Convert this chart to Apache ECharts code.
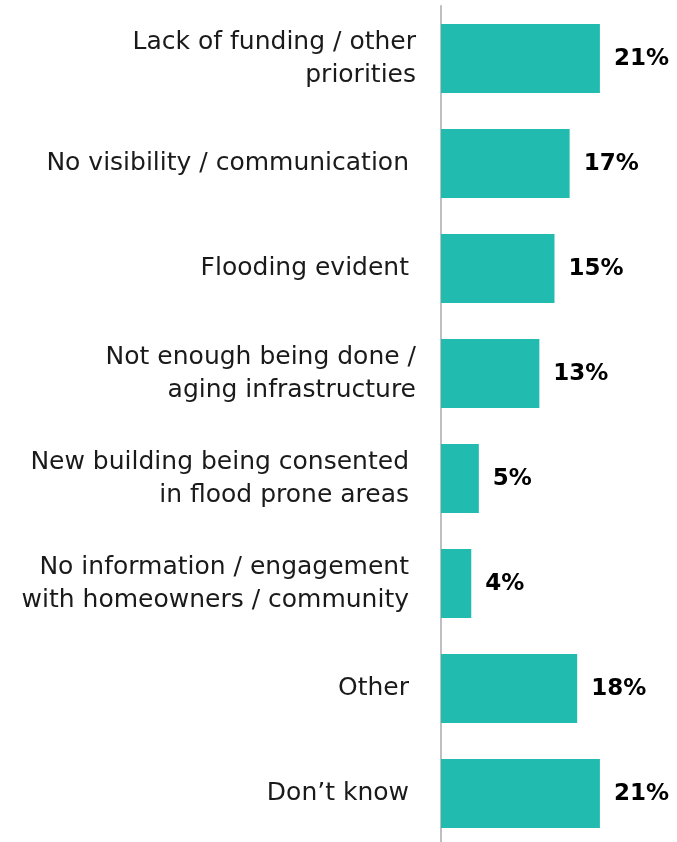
<!DOCTYPE html>
<html>
<head>
<meta charset="utf-8">
<script src="https://cdn.jsdelivr.net/npm/echarts@6/dist/echarts.min.js"></script>
<style>
  html, body { margin: 0; padding: 0; background: #fff; }
  #chart { width: 677px; height: 842px; }
</style>
</head>
<body>
<div id="chart"></div>
<script>
// Reasons given, top to bottom
const categories = [
  'Lack of funding / other\npriorities',
  'No visibility / communication',
  'Flooding evident',
  'Not enough being done /\naging infrastructure',
  'New building being consented\nin flood prone areas',
  'No information / engagement\nwith homeowners / community',
  'Other',
  'Don\u2019t know'
];
// Share of respondents (%)
const values = [21, 17, 15, 13, 5, 4, 18, 21];
// Labels that sit slightly further from the axis
const insetLabels = [false, true, true, false, true, true, true, true];

const chart = echarts.init(document.getElementById('chart'), null, { renderer: 'canvas' });

const labelFont = '"DejaVu Sans", sans-serif';

chart.setOption({
  animation: false,
  grid: { left: 441, top: 6, width: 227, height: 840, containLabel: false, outerBoundsMode: 'none' },
  xAxis: {
    type: 'value', min: 0, max: 30,
    show: false
  },
  yAxis: {
    type: 'category',
    inverse: true,
    data: categories,
    axisLine: { show: true, lineStyle: { color: '#bfbfbf', width: 2 } },
    axisTick: { show: false },
    axisLabel: {
      margin: 25,
      align: 'right',
      formatter: function (value, idx) {
        const style = insetLabels[idx] ? 'b' : 'a';
        return value.split('\n').map(l => '{' + style + '|' + l + '}').join('\n');
      },
      rich: {
        a: { fontFamily: labelFont, fontSize: 25, color: '#1a1a1a', lineHeight: 33, align: 'right' },
        b: { fontFamily: labelFont, fontSize: 25, color: '#1a1a1a', lineHeight: 33, align: 'right', padding: [0, 7, 0, 0] }
      }
    }
  },
  series: [{
    type: 'bar',
    data: values,
    barWidth: 69,
    itemStyle: { color: '#21bbaf' },
    label: {
      show: true,
      position: 'right',
      distance: 14,
      formatter: '{c}%',
      fontFamily: labelFont,
      fontWeight: 'bold',
      fontSize: 23,
      color: '#000',
      offset: [0, 1]
    }
  }]
});
</script>
</body>
</html>
